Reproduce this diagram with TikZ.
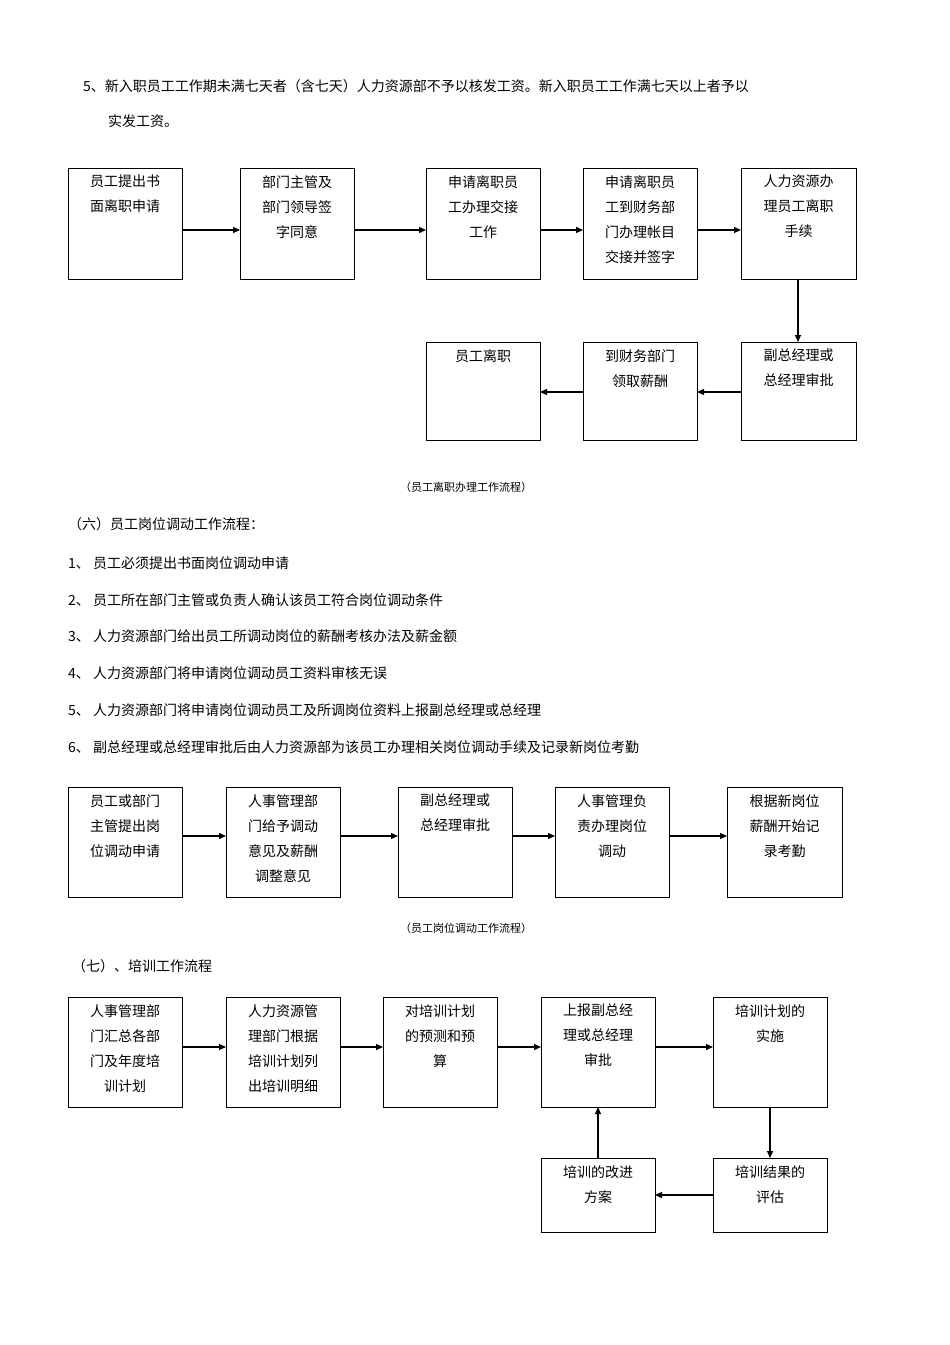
\documentclass[tikz,border=0pt]{standalone}
\usepackage{fontspec}
\setmainfont{Noto Sans CJK SC}
\usetikzlibrary{arrows.meta}
\begin{document}
\begin{tikzpicture}[x=1pt,y=-1pt,
 box/.style={draw,line width=0.8pt},
 lbl/.style={anchor=north,align=center,font=\fontsize{14}{25}\selectfont,inner sep=0pt},
 txt/.style={anchor=west,font=\fontsize{14}{25}\selectfont,inner sep=0pt},
 capt/.style={anchor=center,font=\fontsize{11}{14}\selectfont,inner sep=0pt},
 arr/.style={-{Triangle[length=7pt,width=6pt]},line width=1.2pt}]
\useasboundingbox (0,0) rectangle (950,1345);
\newcommand{\bx}[6]{%
 \draw[box] (#2,#3) rectangle (#4,#5);
 \coordinate (#1) at ({(#2+#4)/2},{(#3+#5)/2});
 \node[lbl] (#1t) at ({(#2+#4)/2},{#3+7}) {#6};}
\node[txt] (p1) at (83,86) {5、新入职员工工作期未满七天者（含七天）人力资源部不予以核发工资。新入职员工工作满七天以上者予以};
\node[txt] (p2) at (108,121) {实发工资。};
% section 1
\bx{a1}{68}{168}{182}{279}{员工提出书\\面离职申请}
\bx{a2}{240}{168}{354}{279}{部门主管及\\部门领导签\\字同意}
\bx{a3}{426}{168}{540}{279}{申请离职员\\工办理交接\\工作}
\bx{a4}{583}{168}{697}{279}{申请离职员\\工到财务部\\门办理帐目\\交接并签字}
\bx{a5}{741}{168}{856}{279}{人力资源办\\理员工离职\\手续}
\bx{b1}{426}{342}{540}{440}{员工离职}
\bx{b2}{583}{342}{697}{440}{到财务部门\\领取薪酬}
\bx{b3}{741}{342}{856}{440}{副总经理或\\总经理审批}
\coordinate (a1r) at (182,230); \coordinate (a2l) at (240,230);
\coordinate (a2r) at (354,230); \coordinate (a3l) at (426,230);
\coordinate (a3r) at (540,230); \coordinate (a4l) at (583,230);
\coordinate (a4r) at (697,230); \coordinate (a5l) at (741,230);
\draw[arr] (a1r) -- (a2l); \draw[arr] (a2r) -- (a3l);
\draw[arr] (a3r) -- (a4l); \draw[arr] (a4r) -- (a5l);
\coordinate (a5b) at (798,279); \coordinate (b3t) at (798,342);
\draw[arr] (a5b) -- (b3t);
\coordinate (b3l) at (741,392); \coordinate (b2r) at (697,392);
\coordinate (b2l) at (583,392); \coordinate (b1r) at (540,392);
\draw[arr] (b3l) -- (b2r); \draw[arr] (b2l) -- (b1r);
\node[capt] (c1) at (466,487) {（员工离职办理工作流程）};
% section 2 text
\node[txt] (s2) at (68,524) {（六）员工岗位调动工作流程：};
\node[txt] (l1) at (68,563) {1、 员工必须提出书面岗位调动申请};
\node[txt] (l2) at (68,600) {2、 员工所在部门主管或负责人确认该员工符合岗位调动条件};
\node[txt] (l3) at (68,636) {3、 人力资源部门给出员工所调动岗位的薪酬考核办法及薪金额};
\node[txt] (l4) at (68,673) {4、 人力资源部门将申请岗位调动员工资料审核无误};
\node[txt] (l5) at (68,710) {5、 人力资源部门将申请岗位调动员工及所调岗位资料上报副总经理或总经理};
\node[txt] (l6) at (68,747) {6、 副总经理或总经理审批后由人力资源部为该员工办理相关岗位调动手续及记录新岗位考勤};
\bx{d1}{68}{787}{182}{897}{员工或部门\\主管提出岗\\位调动申请}
\bx{d2}{226}{787}{340}{897}{人事管理部\\门给予调动\\意见及薪酬\\调整意见}
\bx{d3}{398}{787}{512}{897}{副总经理或\\总经理审批}
\bx{d4}{555}{787}{669}{897}{人事管理负\\责办理岗位\\调动}
\bx{d5}{727}{787}{842}{897}{根据新岗位\\薪酬开始记\\录考勤}
\coordinate (d1r) at (182,836); \coordinate (d2l) at (226,836);
\coordinate (d2r) at (340,836); \coordinate (d3l) at (398,836);
\coordinate (d3r) at (512,836); \coordinate (d4l) at (555,836);
\coordinate (d4r) at (669,836); \coordinate (d5l) at (727,836);
\draw[arr] (d1r) -- (d2l); \draw[arr] (d2r) -- (d3l);
\draw[arr] (d3r) -- (d4l); \draw[arr] (d4r) -- (d5l);
\node[capt] (c2) at (466,928) {（员工岗位调动工作流程）};
% section 3
\node[txt] (s3) at (72,966) {（七）、培训工作流程};
\bx{e1}{68}{997}{182}{1107}{人事管理部\\门汇总各部\\门及年度培\\训计划}
\bx{e2}{226}{997}{340}{1107}{人力资源管\\理部门根据\\培训计划列\\出培训明细}
\bx{e3}{383}{997}{497}{1107}{对培训计划\\的预测和预\\算}
\bx{e4}{541}{997}{655}{1107}{上报副总经\\理或总经理\\审批}
\bx{e5}{713}{997}{827}{1107}{培训计划的\\实施}
\bx{f1}{541}{1158}{655}{1232}{培训的改进\\方案}
\bx{f2}{713}{1158}{827}{1232}{培训结果的\\评估}
\coordinate (e1r) at (182,1047); \coordinate (e2l) at (226,1047);
\coordinate (e2r) at (340,1047); \coordinate (e3l) at (383,1047);
\coordinate (e3r) at (497,1047); \coordinate (e4l) at (541,1047);
\coordinate (e4r) at (655,1047); \coordinate (e5l) at (713,1047);
\draw[arr] (e1r) -- (e2l); \draw[arr] (e2r) -- (e3l);
\draw[arr] (e3r) -- (e4l); \draw[arr] (e4r) -- (e5l);
\coordinate (e5b) at (770,1107); \coordinate (f2t) at (770,1158);
\draw[arr] (e5b) -- (f2t);
\coordinate (f2l) at (713,1195); \coordinate (f1r) at (655,1195);
\draw[arr] (f2l) -- (f1r);
\coordinate (f1t) at (598,1158); \coordinate (e4b) at (598,1107);
\draw[arr] (f1t) -- (e4b);
\end{tikzpicture}
\end{document}
